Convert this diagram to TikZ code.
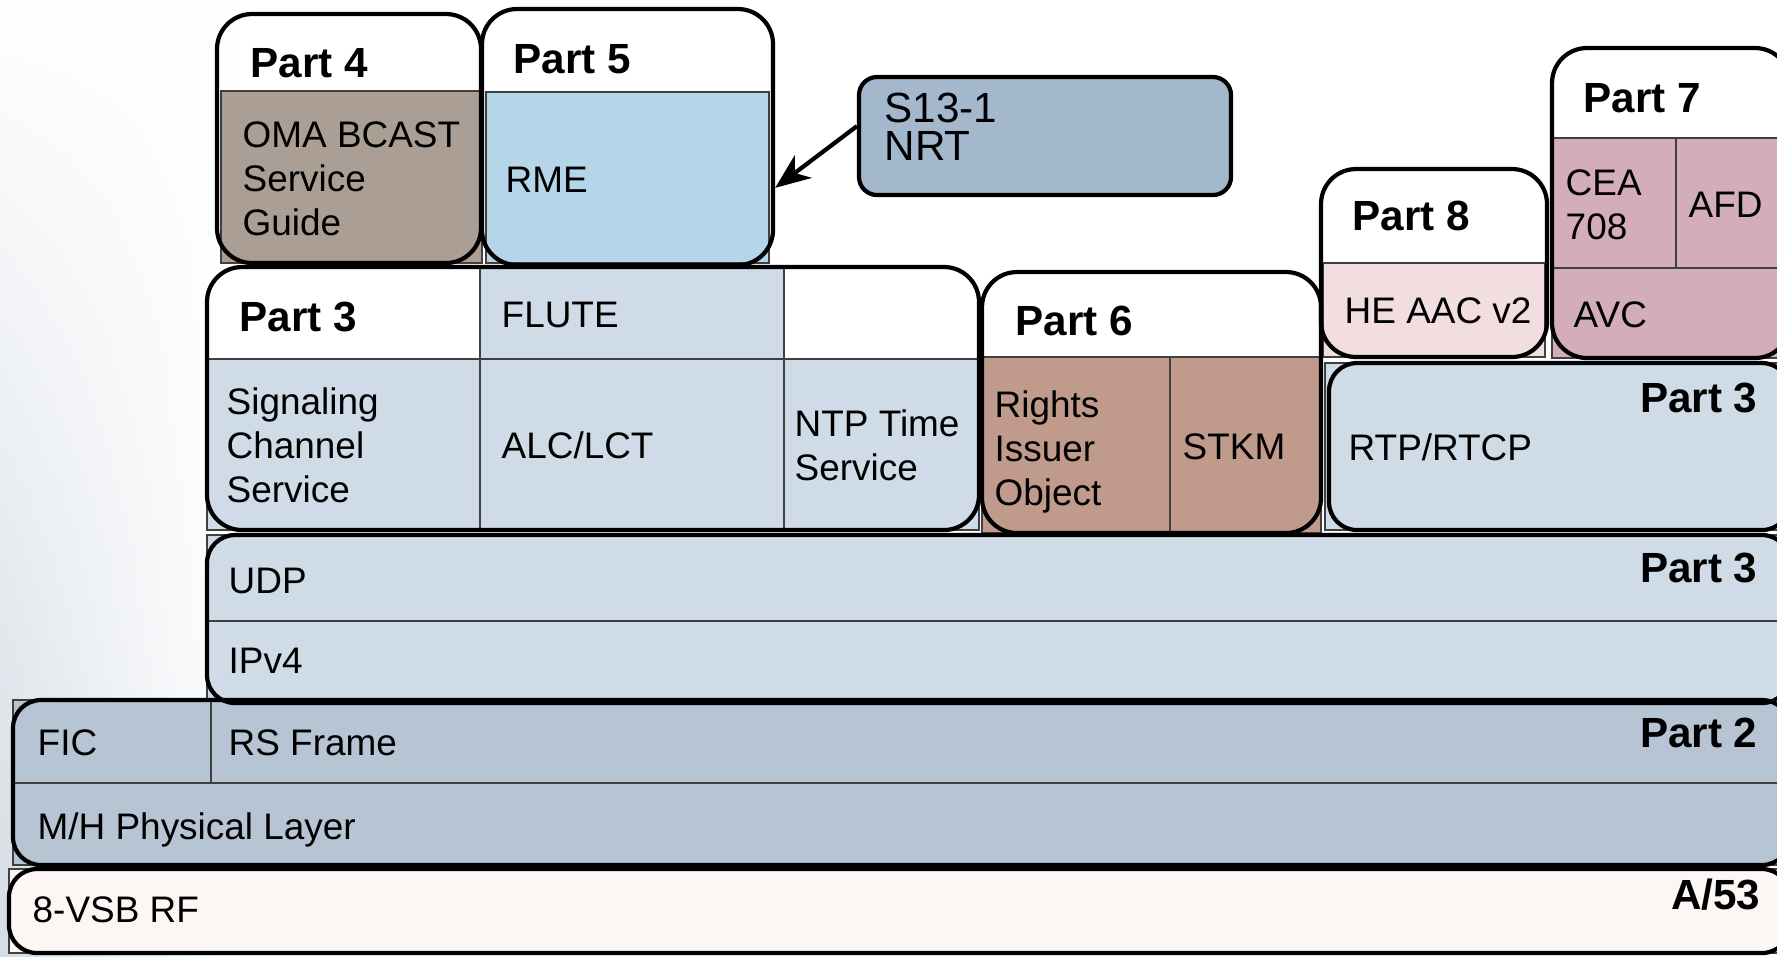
\documentclass[tikz,border=0pt]{standalone}
\usepackage{fontspec}
\setmainfont{Liberation Sans}
\usetikzlibrary{fit,arrows.meta,fadings}

\definecolor{omabrown}{HTML}{AB9F95}
\definecolor{rmeblue}{HTML}{B4D6E8}
\definecolor{nrtblue}{HTML}{A3B8CC}
\definecolor{ipblue}{HTML}{CFDBE6}
\definecolor{drmbrown}{HTML}{C09A8B}
\definecolor{aacpink}{HTML}{F2DDE0}
\definecolor{avcpink}{HTML}{D3ADBB}
\definecolor{phyblue}{HTML}{B7C4D3}
\definecolor{rfwhite}{HTML}{FCF7F4}
\definecolor{haze}{HTML}{D5DCE5}

\tikzset{
  cell/.style={draw=black!75, line width=.4pt},
  frame/.style={draw, line width=1.2pt, rounded corners=.35cm, inner sep=0pt},
  layer/.style={frame, rounded corners=.28cm},
  lbl/.style={anchor=base west, align=left, inner sep=0pt, font=\fontsize{10.5}{12.5}\selectfont},
  part/.style={anchor=base west, inner sep=0pt, font=\fontsize{12}{14}\selectfont\bfseries},
}

\begin{document}
\begin{tikzpicture}[x=.01cm,y=-.01cm]
  \useasboundingbox (0,0) rectangle (1777,956);
  \clip (0,0) rectangle (1777,956);
  % backdrop
  \fill[white] (0,0) rectangle (1777,956);
  \shade[left color=haze, right color=white, path fading=north] (0,0) rectangle (240,956);

  % cells
  \draw[cell, fill=omabrown] (221,91) rectangle (482,263);
  \draw[cell, fill=rmeblue] (486,92) rectangle (769,263);
  \fill[white] (207,267) rectangle (480,359);
  \fill[white] (784,267) rectangle (979,359);
  \draw[cell, fill=ipblue] (480,267) rectangle (784,359);
  \draw[cell, fill=ipblue] (207,359) rectangle (480,530);
  \draw[cell, fill=ipblue] (480,359) rectangle (784,530);
  \draw[cell, fill=ipblue] (784,359) rectangle (979,530);
  \draw[cell, fill=drmbrown] (982,357) rectangle (1170,533);
  \draw[cell, fill=drmbrown] (1170,357) rectangle (1321,533);
  \draw[cell, fill=aacpink] (1323,263) rectangle (1545,357);
  \draw[cell, fill=avcpink] (1552,138) rectangle (1676,268);
  \draw[cell, fill=avcpink] (1676,138) rectangle (1790,268);
  \draw[cell, fill=avcpink] (1552,268) rectangle (1790,358);
  \draw[cell, fill=ipblue] (1325,363) rectangle (1790,530);
  \draw[cell, fill=ipblue] (207,535) rectangle (1790,621);
  \draw[cell, fill=ipblue] (207,621) rectangle (1790,703);
  \draw[cell, fill=phyblue] (13,700) rectangle (211,783);
  \draw[cell, fill=phyblue] (211,700) rectangle (1790,783);
  \draw[cell, fill=phyblue] (13,783) rectangle (1790,865);
  \draw[cell, fill=rfwhite] (9,869) rectangle (1790,953);

  % outlines
  \node[frame, fit={(217,14) (481,263)}] (p4) {};
  \node[frame, fit={(482,9) (773,265)}] (p5) {};
  \node[frame, fit={(207,267) (979,530)}] (p3) {};
  \node[frame, fit={(982,272) (1321,533)}] (p6) {};
  \node[frame, fit={(1321,169) (1547,357)}] (p8) {};
  \node[frame, fit={(1552,48) (1790,358)}] (p7) {};
  \node[layer, fit={(1329,363) (1790,530)}] (rtp) {};
  \node[layer, fit={(207,535) (1790,703)}] (ip) {};
  \node[layer, fit={(13,700) (1790,865)}] (mh) {};
  \node[layer, fit={(9,869) (1790,953)}] (rf) {};
  \node[frame, fit={(859,77) (1231,195)}, rounded corners=.18cm, fill=nrtblue] (nrt) {};

  \draw[line width=1.2pt, -{Stealth[length=10pt,width=8pt,inset=3pt]}] (nrt.177) -- (p5.-19);

  % labels (multi-line ones sit on their last baseline)
  \node[part] (p4t) at (250,77) {Part 4};
  \node[part] (p5t) at (513,73) {Part 5};
  \node[lbl] (oma) at (242,235) {OMA BCAST\\Service\\Guide};
  \node[lbl] (rme) at (505,192) {RME};
  \node[lbl, font=\fontsize{12}{10.8}\selectfont] (nrtt) at (884,160) {S13-1\\NRT};
  \node[part] (p7t) at (1583,112) {Part 7};
  \node[lbl] (cea) at (1565,239) {CEA\\708};
  \node[lbl] (afd) at (1688,217) {AFD};
  \node[lbl] (avc) at (1573,327) {AVC};
  \node[part] (p8t) at (1352,230) {Part 8};
  \node[lbl] (aac) at (1344,323) {HE AAC v2};
  \node[part] (p3t) at (239,331) {Part 3};
  \node[lbl] (flute) at (501,327) {FLUTE};
  \node[lbl] (sig) at (226,502) {Signaling\\Channel\\Service};
  \node[lbl] (alc) at (501,458) {ALC/LCT};
  \node[lbl] (ntp) at (794,480) {NTP Time\\Service};
  \node[part] (p6t) at (1015,335) {Part 6};
  \node[lbl] (rio) at (994,505) {Rights\\Issuer\\Object};
  \node[lbl] (stkm) at (1182,459) {STKM};
  \node[part, anchor=base east] (rtpt) at (1758,412) {Part 3};
  \node[lbl] (rtcp) at (1348,460) {RTP/RTCP};
  \node[part, anchor=base east] (ipt) at (1758,582) {Part 3};
  \node[lbl] (udp) at (228,593) {UDP};
  \node[lbl] (ipv4) at (228,673) {IPv4};
  \node[part, anchor=base east] (mht) at (1758,747) {Part 2};
  \node[lbl] (fic) at (37,755) {FIC};
  \node[lbl] (rsf) at (228,755) {RS Frame};
  \node[lbl] (phy) at (37,839) {M/H Physical Layer};
  \node[part, anchor=base east] (rft) at (1761,909) {A/53};
  \node[lbl] (vsb) at (32,922) {8-VSB RF};
\end{tikzpicture}
\end{document}
